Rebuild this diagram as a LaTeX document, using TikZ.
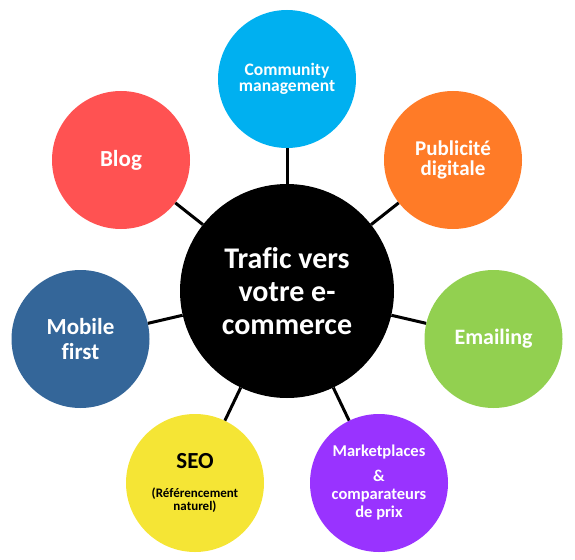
\documentclass[tikz,border=0pt]{standalone}
\usepackage{fontspec}
\setmainfont{Carlito}[Ligatures={NoCommon}]
\definecolor{cblue}{HTML}{00B0F0}
\definecolor{corange}{HTML}{FF7B27}
\definecolor{cgreen}{HTML}{92D050}
\definecolor{cpurple}{HTML}{9933FF}
\definecolor{cyellow}{HTML}{F5E535}
\definecolor{cnavy}{HTML}{346699}
\definecolor{cred}{HTML}{FF5252}
\tikzset{
  sat/.style={circle, draw=none, minimum size=138pt, inner sep=0pt, align=center, text=white, font=\bfseries},
  hub/.style={circle, fill=black, minimum size=214pt, inner sep=0pt, align=center, text=white,
    font=\bfseries\fontsize{30}{33}\selectfont},
  link/.style={line width=3pt, black}
}
\begin{document}
\begin{tikzpicture}[x=1pt,y=-1pt]
\useasboundingbox (0,0) rectangle (575,559);
\node[hub] (hub) at (287,291) {Trafic vers\\votre e-\\commerce};
\node[sat, fill=cblue, font=\bfseries\fontsize{17.5}{16.5}\selectfont] (cm) at (287,79) {Community\\management};
\node[sat, fill=corange, font=\bfseries\fontsize{21}{20.5}\selectfont] (pub) at (453,160) {Publicité\\digitale};
\node[sat, fill=cgreen, font=\bfseries\fontsize{22}{24}\selectfont] (mail) at (493.5,339) {Emailing};
\node[sat, fill=cpurple, font=\bfseries\fontsize{16.5}{18}\selectfont] (mkt) at (379,483) {Marketplaces\\[7pt]\&\\comparateurs\\de prix};
\node[sat, fill=cyellow, text=black, font=\bfseries\fontsize{13}{13.5}\selectfont] (seo) at (195,483) {{\fontsize{23}{24}\selectfont SEO}\\[15pt](Référencement\\naturel)};
\node[sat, fill=cnavy, font=\bfseries\fontsize{23}{25}\selectfont] (mob) at (80.5,339) {Mobile\\first};
\node[sat, fill=cred, font=\bfseries\fontsize{23}{25}\selectfont] (blog) at (121,160) {Blog};
\foreach \s in {cm,pub,mail,mkt,seo,mob,blog}
  \draw[link] (hub) -- (\s);
\end{tikzpicture}
\end{document}
